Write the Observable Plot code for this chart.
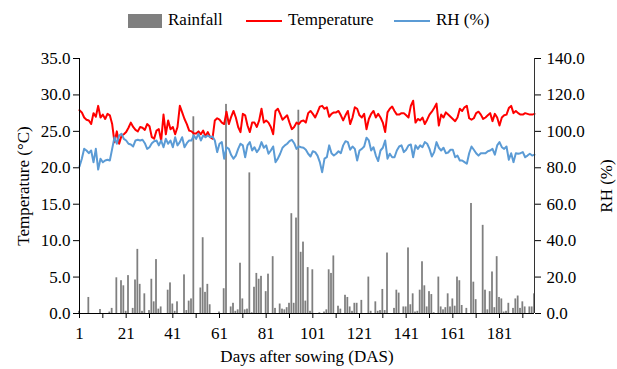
<!DOCTYPE html>
<html><head><meta charset="utf-8">
<script src="https://cdn.jsdelivr.net/npm/d3@7"></script>
<script src="https://cdn.jsdelivr.net/npm/@observablehq/plot@0.6"></script>
<style>
body{margin:0;background:#fff;font-family:"Liberation Serif","Times New Roman",serif;}
#wrap{position:relative;width:617px;height:369px;overflow:hidden;}
#legend{position:absolute;left:0;top:0;width:617px;height:40px;font-size:17px;color:#000;}
#legend .it{position:absolute;top:10px;line-height:19px;white-space:nowrap;}
#legend .sw{display:inline-block;vertical-align:middle;margin-right:6px;}
#chart{position:absolute;left:0;top:40px;}
</style></head><body>
<div id="wrap">
  <div id="legend"></div>
  <div id="chart"></div>
</div>
<script>
// Series values, day 1..196
const rain = [0.3,0,0,0,2.2,0,0,0,0,0.55, 0,0,0,0.2,0.7,0,4.9,0,4.5,3.8,
0.3,5.2,0,0.7,4.6,8.8,4.0,0.3,2.7,0, 0.4,4.7,1.6,7.4,0.6,0.9,0,0,3.2,4.2,
1.3,0.3,1.6,0,0,5.3,0.4,1.7,2.0,27.0, 0,0,3.5,10.4,2.9,4.0,1.2,0,0,0,
0.2,0,3.4,28.7,0,0.9,1.4,0.3,0.5,6.9, 2.0,0.5,0.6,19.3,0.1,3.6,5.5,4.7,5.1,0,
3.0,5.4,0,7.8,0.7,0,1.3,0.6,0.5,0.8, 1.4,13.7,1.4,13.1,27.9,8.4,9.8,1.7,6.3,0.3,
6.0,0,0,0.1,0,0.2,0.5,6.0,5.5,7.9, 0,1.0,0.6,0,2.5,2.2,0.9,0.3,1.4,1.4,
0,1.8,0,0,5.0,0.3,0,1.6,0.3,0.4, 3.3,0.4,8.3,0,0,0.7,3.2,2.8,0,0.9,
0.9,9.0,1.2,2.7,0.2,0.3,3.2,7.1,3.8,0.9, 3.0,2.6,0.1,0,5.0,0.9,0.5,0.8,2.7,0.9,
2.0,1.0,5.0,4.5,1.1,0,0.7,0,15.1,4.3, 1.9,0,0,12.1,3.2,0.5,3.0,5.7,0.8,7.8,
2.2,2.0,0.2,0.3,1.4,0,0.7,2.0,2.4,0.7, 1.6,0.9,0,0.9,0.9,2.7];
const temperature = [27.9,27.6,26.9,26.6,26.5,26.0,27.5,27.0,28.5,26.9, 27.3,26.7,27.4,27.2,26.0,23.5,25.0,23.3,24.4,24.6,
24.9,25.5,26.2,25.6,25.2,25.0,25.6,25.5,25.2,26.0, 25.7,24.2,24.0,25.1,25.3,23.7,27.3,24.6,26.5,25.3,
25.6,24.6,25.6,28.5,27.6,26.7,26.0,25.1,25.0,24.7, 24.7,25.0,24.6,25.1,24.3,24.9,24.2,24.0,26.5,26.8,
26.6,26.2,26.0,27.7,26.0,27.0,27.8,26.9,25.6,24.9, 27.4,27.2,25.8,24.9,26.2,26.2,25.6,26.5,28.1,26.2,
26.5,26.2,25.6,24.6,27.8,28.1,27.4,26.6,26.9,27.2, 26.2,25.3,25.6,26.2,26.0,26.4,26.5,26.2,27.5,27.8,
27.4,26.9,27.6,28.4,28.5,28.1,28.3,27.0,27.4,27.6, 27.6,27.8,27.2,26.5,27.2,27.8,26.0,26.9,28.3,28.1,
27.2,26.9,27.4,25.3,26.7,27.4,27.8,26.9,27.4,26.9, 26.2,24.9,27.6,28.1,28.4,27.8,27.3,27.3,27.5,27.5,
27.2,26.9,28.5,29.2,26.2,26.7,26.5,26.9,26.0,26.6, 27.3,27.7,28.2,28.8,25.8,27.3,26.9,27.6,27.3,27.0,
26.7,26.4,26.9,28.1,27.8,28.3,28.5,26.8,26.6,26.8, 27.5,27.7,27.3,26.7,26.9,27.2,27.5,26.4,27.4,26.9,
25.8,26.9,27.2,27.3,28.2,28.5,27.5,27.8,27.5,27.3, 27.3,27.5,27.4,27.3,27.3,27.4];
const rh = [80.7,85,90.4,89.5,88,89.5,83,90.4,79,85, 83,84,84.4,84,90.4,96.8,93.2,97.7,98.7,95.9,
95,93.2,92.8,91.7,95,95.4,95,95.4,93.5,90.4, 91.3,93.5,94.6,95,92.3,95,91.3,95.9,93.2,95,
91.3,96.8,92.3,94.1,96.8,91.3,93.5,95,95,97.7, 95.9,98.7,95,97.7,96.8,97.7,96.8,97.2,95,88.6,
93.2,94.1,85,91.3,90.4,87,85,86.7,90.4,93.2, 92.3,85.8,92.3,94.1,89.5,91.3,88.6,90.4,94.1,91,
92.3,87.7,89.5,91.7,83.1,85,87.7,91,92.3,93.2, 94.6,95.4,93.5,90.4,91.7,91.3,91,89.9,87.7,86.2,
89.1,88.6,86.7,83.1,77.6,85,85.8,92.3,88,86.7, 87.7,89.1,88,92.3,94.6,94.1,89.9,91.7,90.4,84,
89.5,90.4,91.7,96.5,95,89.5,91.3,86.7,83.7,89.5, 91,95,85,87.7,85.8,85.8,89.5,91.7,92.3,88.6,
89.9,92.3,92.8,85.8,92.3,90.4,92.3,91.3,94.1,93.2, 90.4,86.2,88.6,94.1,91,89.5,91,88,88.4,89.9,
89.9,85.8,86.7,84,84,83.1,82.2,88,91.7,89.9, 88,86.7,88,88,88,89.1,89.5,90.4,87.2,92.3,
94.1,91.3,90.4,91.7,84.4,88,83.1,88,87.7,88, 88.6,85.8,86.7,87.7,86.7,87.2];
const firstDay = 1;
const xTickValues = [1,11,21,31,41,51,61,71,81,91,101,111,121,131,141,151,161,171,181,191];
const xTickLabels = [1,21,41,61,81,101,121,141,161,181];
const leftTicks = [0,5,10,15,20,25,30,35];
const rhPerTemp = 4; // right axis 0..140 vs left 0..35
const legendItems = ["Rainfall","Temperature","RH (%)"];
const colors = {rain:"#7f7f7f", temp:"#ff0000", rh:"#5b9bd5"};

const rows = rain.map((r,i)=>({day:firstDay+i, rain:r, temp:temperature[i], rh:rh[i]}));
const lastDay = rows[rows.length-1].day;

// legend (HTML)
const lg = document.getElementById("legend");
const legendPos = [128, 246, 394];
legendItems.forEach((name,i)=>{
  const it = document.createElement("div");
  it.className="it"; it.style.left = legendPos[i]+"px";
  let sw;
  if(i===0){ sw = `<span class="sw" style="width:34px;height:14px;background:${colors.rain}"></span>`; }
  else { const c = i===1?colors.temp:colors.rh; sw = `<span class="sw" style="width:36px;height:2px;background:${c}"></span>`; }
  it.innerHTML = sw + name;
  lg.appendChild(it);
});

const chart = Plot.plot({
  width: 617, height: 329,
  marginLeft: 79, marginRight: 83, marginTop: 18, marginBottom: 56,
  style: {fontFamily: '"Liberation Serif","Times New Roman",serif', fontSize: "17px", color: "#000", background: "#fff", overflow: "visible"},
  x: {domain: [firstDay, lastDay]},
  y: {domain: [0, 35]},
  marks: [
    Plot.rectY(rows, {x1: d => d.day - 0.38, x2: d => d.day + 0.38, y: "rain", fill: colors.rain}),
    Plot.lineY(rows, {x: "day", y: "temp", stroke: colors.temp, strokeWidth: 2}),
    Plot.lineY(rows, {x: "day", y: d => d.rh / rhPerTemp, stroke: colors.rh, strokeWidth: 2}),
    Plot.ruleY([0], {stroke: "#000"}),
    Plot.ruleX([firstDay], {stroke: "#000"}),
    Plot.ruleX([lastDay], {stroke: "#333"}),
    Plot.axisY({anchor: "left", ticks: leftTicks, tickFormat: d => d.toFixed(1), tickSize: 6, tickPadding: 3,
      label: "Temperature (°C)", labelAnchor: "center", labelArrow: "none", labelOffset: 63}),
    Plot.axisY({anchor: "right", ticks: leftTicks, tickFormat: d => (d*rhPerTemp).toFixed(1), tickSize: 6, tickPadding: 6,
      label: "RH (%)", labelAnchor: "center", labelArrow: "none", labelOffset: 77}),
    Plot.axisX({ticks: xTickValues, tickFormat: d => xTickLabels.includes(d) ? String(d) : "", tickSize: 5, tickPadding: 8,
      label: "Days after sowing (DAS)", labelAnchor: "center", labelArrow: "none", labelOffset: 48})
  ]
});
document.getElementById("chart").appendChild(chart);
</script>
</body></html>
